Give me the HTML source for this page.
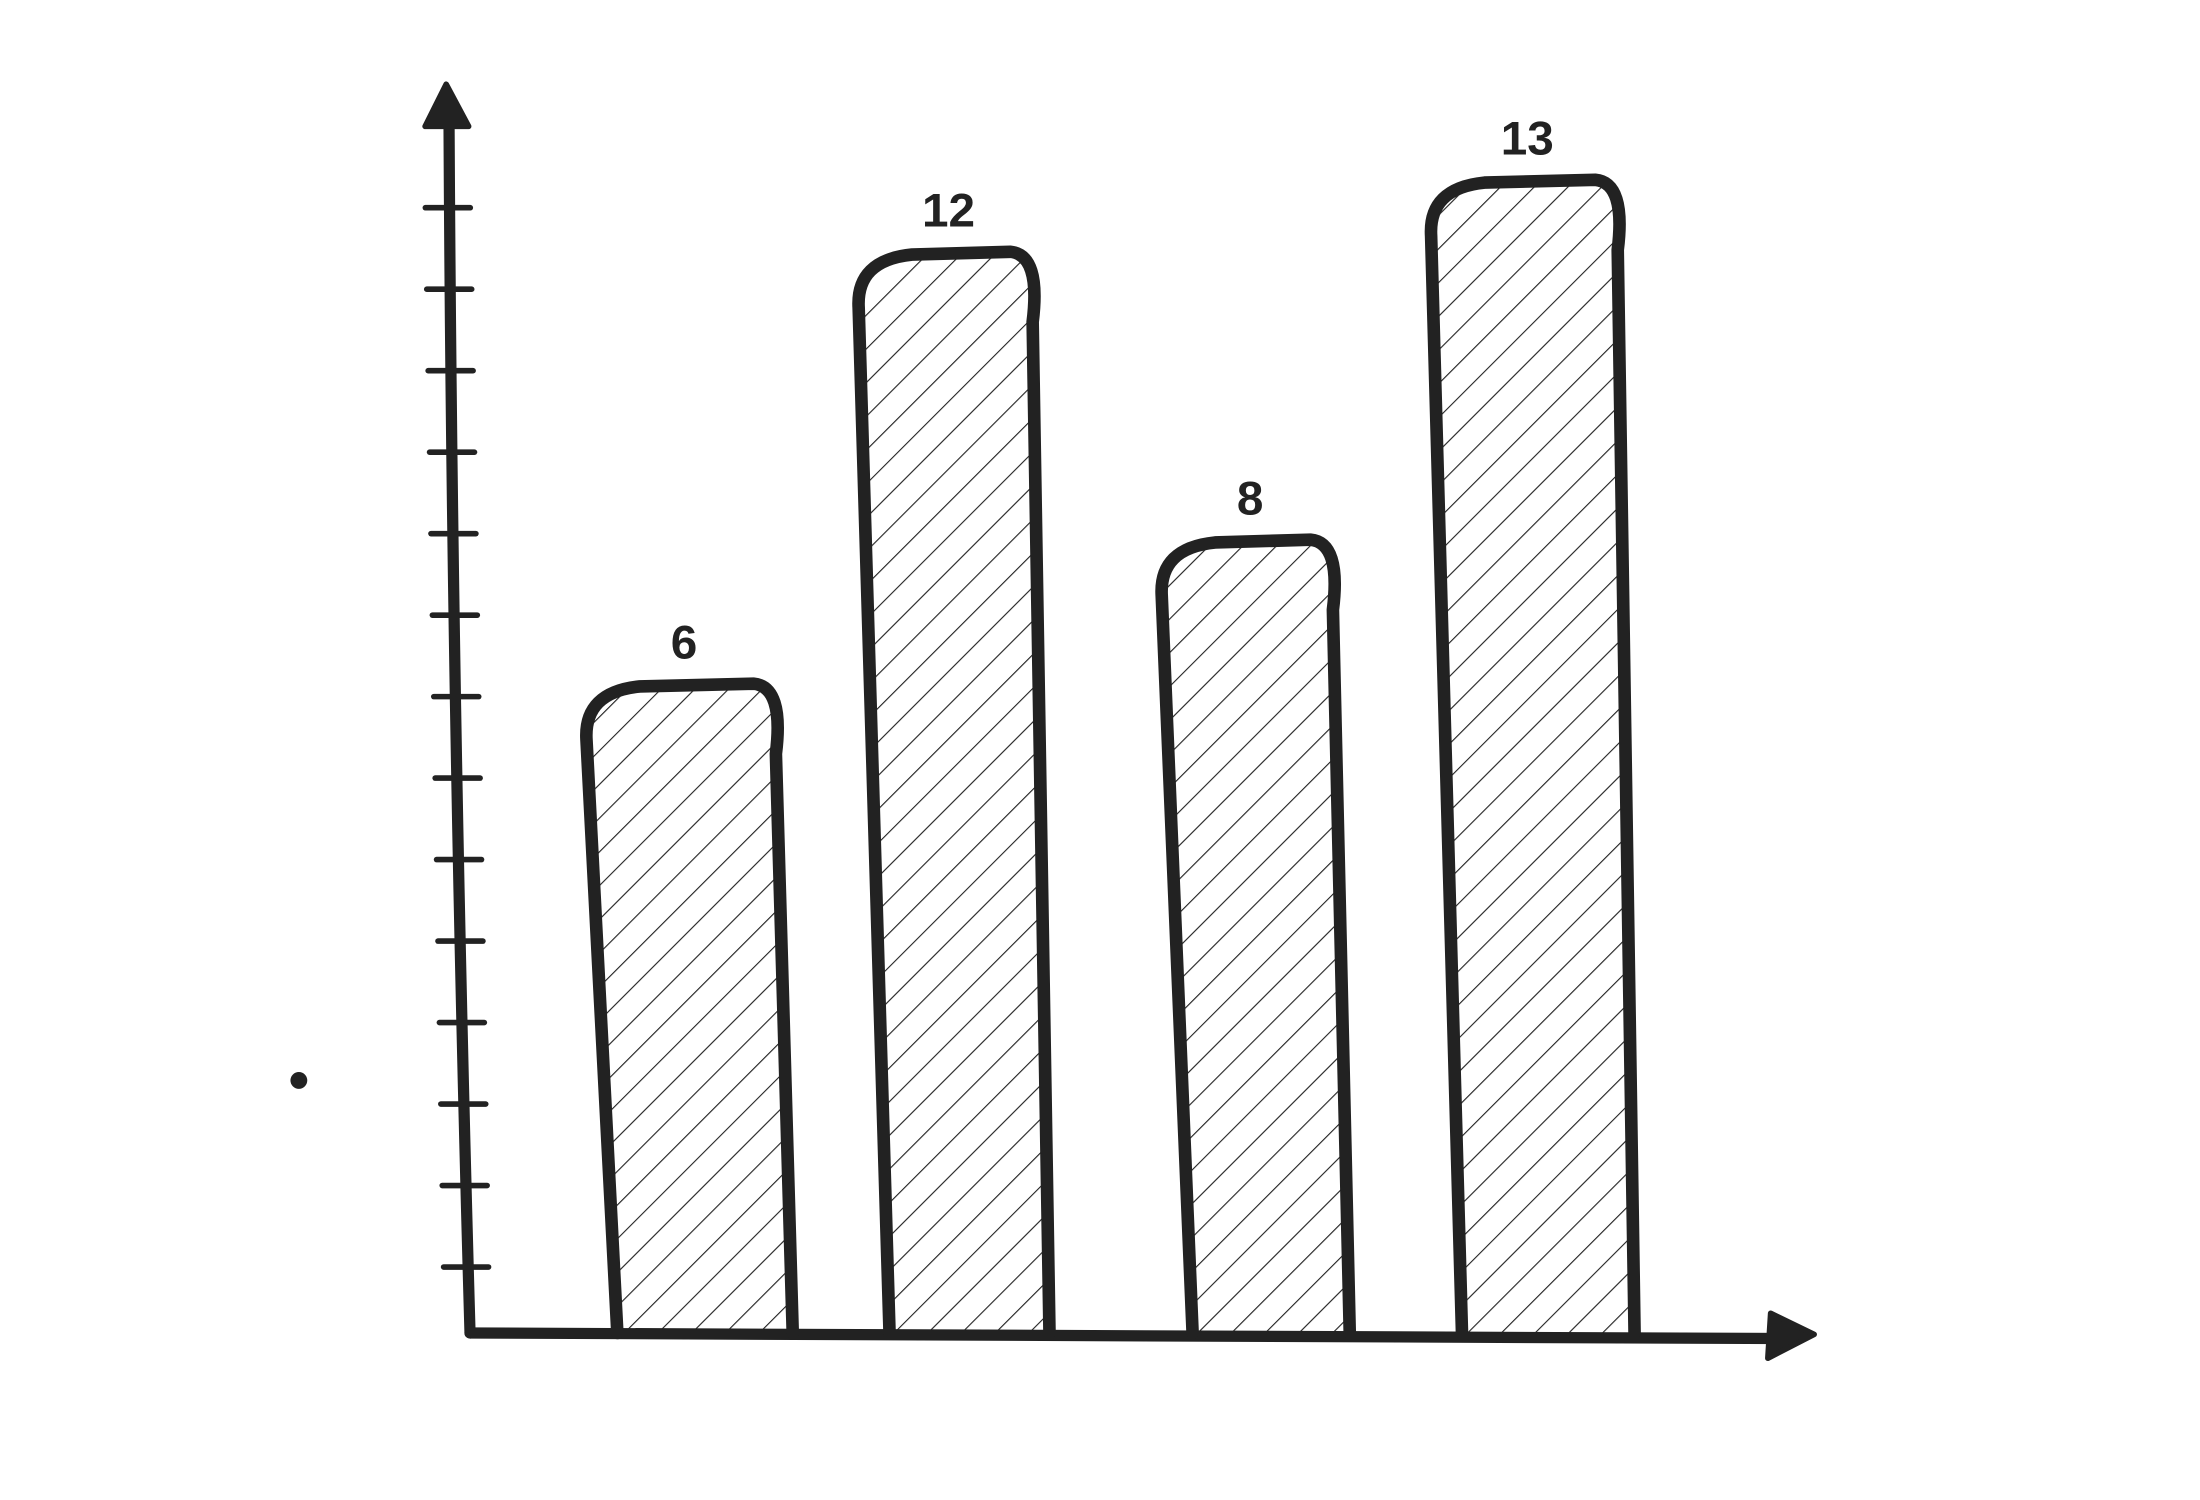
<!DOCTYPE html>
<html><head><meta charset="utf-8"><style>html,body{margin:0;padding:0;background:#fff;}svg{display:block}</style></head>
<body>
<svg id="chart" width="2200" height="1500" viewBox="0 0 1568 1069" xmlns="http://www.w3.org/2000/svg">
<defs>
<pattern id="hatch" patternUnits="userSpaceOnUse" width="17" height="17" patternTransform="rotate(45)">
<line x1="0" y1="0" x2="0" y2="17" stroke="#222" stroke-width="1.6"/>
</pattern>
</defs>
<g id="axes"></g>
<g id="bars"></g>
<circle cx="213" cy="770" r="6" fill="#222"/>
</svg>
<script>
const categories = ["A", "B", "C", "D"];
const values = [6, 12, 8, 13];
const labels = ["6", "12", "8", "13"];
const tickCount = 14;

const NS = "http://www.w3.org/2000/svg";
const base = 950;
function yScale(v) { return base - (153 + 51.3 * v); }
const barX = [418, 612, 828, 1020];
const barW = [147, 136, 134, 145];
function xBand(i) { return barX[i]; }

const axes = document.getElementById('axes');
const bars = document.getElementById('bars');
function mk(tag, attrs, parent) {
  const e = document.createElementNS(NS, tag);
  for (const k in attrs) e.setAttribute(k, attrs[k]);
  parent.appendChild(e);
  return e;
}
let ya = mk('path', {d: 'M335 950 Q322 500 320 80', fill: 'none', stroke: '#222', 'stroke-width': 8, 'stroke-linecap': 'round'}, axes);


let yh = mk('path', {d: 'M318 60 L303 90 L334 90 Z', fill: '#222', stroke: '#222', 'stroke-width': 4, 'stroke-linejoin': 'round'}, axes);


let xa = mk('path', {d: 'M335 950 L1275 954', fill: 'none', stroke: '#222', 'stroke-width': 8, 'stroke-linecap': 'round'}, axes);


let xh = mk('path', {d: 'M1293 951 L1262 936 L1260 968 Z', fill: '#222', stroke: '#222', 'stroke-width': 4, 'stroke-linejoin': 'round'}, axes);


for (let i = 0; i < tickCount; i++) {
  const ty = 903 - i * (903 - 148) / (tickCount - 1);
  const ax = 335 - (950 - ty) / 870 * 15;
  const t = mk('line', {x1: ax - 18, y1: ty, x2: ax + 14, y2: ty, stroke: '#222', 'stroke-width': 4, 'stroke-linecap': 'round'}, axes);
  
  
}
values.forEach((v, i) => {
  const x = xBand(i), w = barW[i], top = yScale(v), r = 28;
  const d = `M${x+22} ${base} L${x} ${top+r+10} Q${x-2} ${top+4} ${x+r+10} ${top} L${x+w-r} ${top-2} Q${x+w-6} ${top} ${x+w-12} ${top+r+20} L${x+w} ${base}`;
  const fill = mk('path', {d: d + ' Z', fill: 'url(#hatch)', stroke: 'none'}, bars);
  
  
  const o = mk('path', {d: d, fill: 'none', stroke: '#222', 'stroke-width': 9, 'stroke-linejoin': 'round', 'stroke-linecap': 'round'}, bars);
  
  
  const t = mk('text', {x: x + w / 2 - 4, y: top - 20, 'text-anchor': 'middle', 'font-family': 'Liberation Sans, sans-serif', 'font-weight': 'bold', 'font-size': 34, fill: '#222'}, bars);
  t.textContent = labels[i];
  
  
});
</script>
</body></html>
